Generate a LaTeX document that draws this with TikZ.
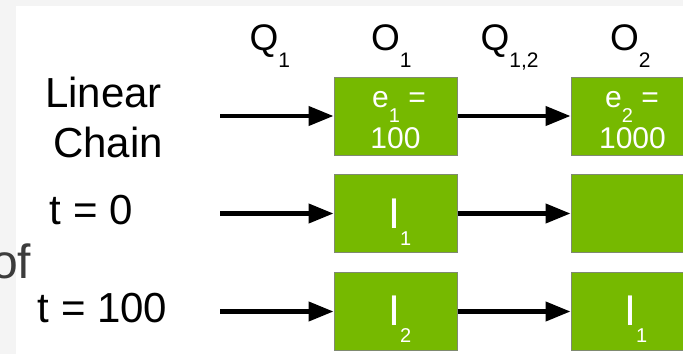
\documentclass[tikz,border=0pt]{standalone}
\usepackage{fontspec}
\setmainfont{Liberation Sans}
\usetikzlibrary{arrows.meta}
\definecolor{nvgreen}{HTML}{76B900}
\definecolor{boxedge}{HTML}{7F8A70}
\definecolor{pagegray}{HTML}{F4F4F4}
\definecolor{ofgray}{HTML}{3C3C3C}
% lowered subscript: drop, size, text
\newcommand{\dsub}[3]{\raisebox{-#1pt}{\fontsize{#2pt}{#2pt}\selectfont #3}}
\tikzset{
  stage/.style={draw=boxedge, line width=1pt, fill=nvgreen, minimum width=123pt,
    minimum height=78pt, inner sep=0pt},
  intext/.style={text=white, inner sep=0pt, font=\fontsize{30pt}{30pt}\selectfont},
  inst/.style={text=white, inner sep=0pt, anchor=base west, font=\fontsize{43pt}{43pt}\selectfont},
  colhead/.style={inner sep=0pt, anchor=base west, font=\fontsize{37pt}{37pt}\selectfont},
  rowlabel/.style={inner sep=0pt, anchor=base west, font=\fontsize{42pt}{42pt}\selectfont},
  arr/.style={line width=4.3pt, -{Triangle[length=25pt, width=19pt]}}
}
\begin{document}
\begin{tikzpicture}[x=1pt, y=-1pt]
\useasboundingbox (0,0) rectangle (683,354);
\clip (0,0) rectangle (683,354);
\fill[pagegray] (0,0) rectangle (683,354);
\fill[white] (16,6) rectangle (683,354);

% partial slide word on the left
\node[inner sep=0pt, anchor=base west, text=ofgray, font=\fontsize{48pt}{48pt}\selectfont] (ofword) at (-9,278) {of};

% column headers
\node[colhead] (hq1) at (249.5,50) {Q\dsub{17}{21}{1}};
\node[colhead] (ho1) at (371,50) {O\dsub{17}{21}{1}};
\node[colhead] (hq12) at (480.5,50) {Q\dsub{17}{21}{1,2}};
\node[colhead] (ho2) at (610,50) {O\dsub{17}{21}{2}};

% row labels
\node[rowlabel] (lin) at (45,107) {Linear};
\node[rowlabel] (chn) at (53,157) {Chain};
\node[rowlabel] (tz) at (49.5,224) {t = 0};
\node[rowlabel] (th) at (37.5,322) {t = 100};

% operator boxes
\node[stage] (b11) at (395.5,116) {};
\node[stage] (b12) at (632.5,116) {};
\node[stage] (b21) at (395.5,213.5) {};
\node[stage] (b22) at (632.5,213.5) {};
\node[stage] (b31) at (395.5,311.5) {};
\node[stage] (b32) at (632.5,311.5) {};

% box contents
\node[intext, anchor=base] (e1) at (399,107) {e\dsub{15}{20}{1} =};
\node[intext, anchor=base] (e1v) at (395.5,148) {100};
\node[intext, anchor=base] (e2) at (632,107) {e\dsub{15}{20}{2} =};
\node[intext, anchor=base] (e2v) at (632.5,148) {1000};
\node[inst] (i21) at (388,228) {I\dsub{17}{20}{1}};
\node[inst] (i31) at (388,325) {I\dsub{17}{20}{2}};
\node[inst] (i32) at (624,325) {I\dsub{17}{20}{1}};

% incoming stream ends
\coordinate (s1) at (220,116);
\coordinate (s2) at (220,213.5);
\coordinate (s3) at (220,311.5);

\draw[arr] (s1) -- (b11.west);
\draw[arr] (s2) -- (b21.west);
\draw[arr] (s3) -- (b31.west);
\draw[arr] (b11.east) -- (b12.west);
\draw[arr] (b21.east) -- (b22.west);
\draw[arr] (b31.east) -- (b32.west);
\end{tikzpicture}
\end{document}
